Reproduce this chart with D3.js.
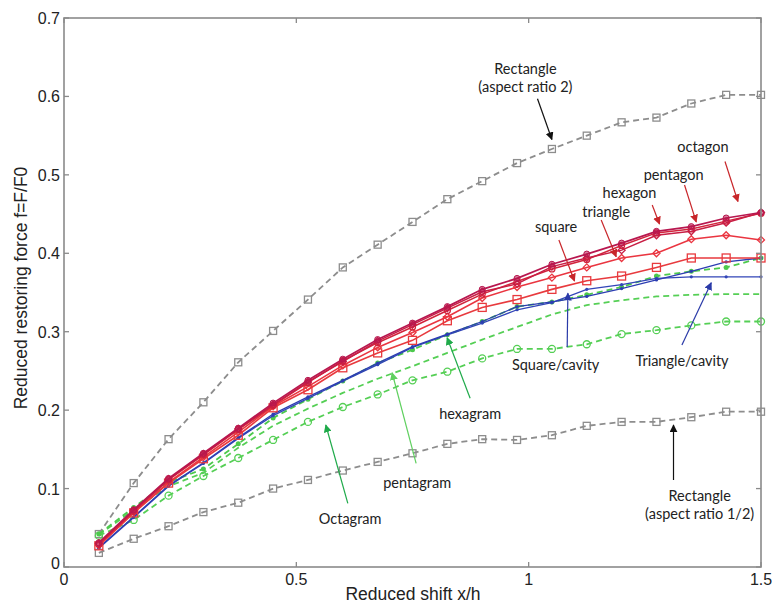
<!DOCTYPE html>
<html lang="en">
<head>
<meta charset="UTF-8">
<title>Reduced restoring force vs reduced shift</title>
<script src="https://d3js.org/d3.v7.min.js"></script>
<style>
    body { margin: 0; background: #fff; }
    svg { display: block; }
    .tick-label { font-family: 'Liberation Sans', Arial, sans-serif; font-size: 16px; fill: #222; }
    .axis-title { font-family: 'Liberation Sans', Arial, sans-serif; font-size: 17.5px; fill: #222; }
    .note { font-family: Lato, 'Open Sans', sans-serif; font-size: 14.5px; fill: #222; }
</style>
</head>
<body>
<div id="chart"></div>
<script>
    // reduced shift x/h at which every curve is sampled
    const shifts = [0.075, 0.15, 0.225, 0.3, 0.375, 0.45, 0.525, 0.6, 0.675, 0.75,
                    0.825, 0.9, 0.975, 1.05, 1.125, 1.2, 1.275, 1.35, 1.425, 1.5];

    // reduced restoring force f=F/F0
    const rectAspect2    = [0.042, 0.107, 0.163, 0.210, 0.261, 0.301, 0.341, 0.382, 0.411, 0.440,
                            0.469, 0.492, 0.515, 0.533, 0.550, 0.567, 0.573, 0.591, 0.602, 0.602];
    const rectAspectHalf = [0.018, 0.036, 0.052, 0.070, 0.082, 0.100, 0.111, 0.123, 0.134, 0.145,
                            0.157, 0.163, 0.162, 0.168, 0.180, 0.185, 0.185, 0.191, 0.198, 0.198];
    const octagon        = [0.031, 0.073, 0.113, 0.145, 0.177, 0.209, 0.238, 0.265, 0.290, 0.311,
                            0.332, 0.354, 0.368, 0.386, 0.399, 0.413, 0.428, 0.434, 0.445, 0.452];
    const pentagon       = [0.030, 0.072, 0.112, 0.144, 0.176, 0.207, 0.236, 0.262, 0.288, 0.309,
                            0.330, 0.351, 0.361, 0.383, 0.394, 0.404, 0.423, 0.428, 0.439, 0.452];
    const hexagon        = [0.029, 0.071, 0.111, 0.143, 0.175, 0.206, 0.235, 0.263, 0.286, 0.306,
                            0.327, 0.348, 0.364, 0.380, 0.392, 0.410, 0.426, 0.431, 0.441, 0.451];
    const triangle       = [0.028, 0.070, 0.108, 0.140, 0.172, 0.205, 0.230, 0.257, 0.280, 0.299,
                            0.319, 0.343, 0.357, 0.369, 0.382, 0.394, 0.400, 0.418, 0.423, 0.417];
    const square         = [0.027, 0.069, 0.107, 0.138, 0.168, 0.203, 0.226, 0.254, 0.273, 0.289,
                            0.314, 0.331, 0.341, 0.354, 0.365, 0.371, 0.382, 0.394, 0.394, 0.394];
    const squareCavity   = [0.025, 0.064, 0.104, 0.133, 0.165, 0.195, 0.217, 0.238, 0.260, 0.281,
                            0.297, 0.313, 0.332, 0.338, 0.345, 0.355, 0.366, 0.377, 0.389, 0.394];
    const triangleCavity = [0.024, 0.063, 0.103, 0.132, 0.164, 0.193, 0.215, 0.237, 0.258, 0.280,
                            0.296, 0.311, 0.328, 0.337, 0.354, 0.360, 0.368, 0.370, 0.370, 0.370];
    const hexagram       = [0.042, 0.076, 0.108, 0.125, 0.157, 0.190, 0.214, 0.237, 0.260, 0.277,
                            0.296, 0.313, 0.332, 0.338, 0.347, 0.357, 0.371, 0.377, 0.382, 0.394];
    const pentagram      = [0.041, 0.073, 0.103, 0.120, 0.152, 0.180, 0.202, 0.222, 0.240, 0.256,
                            0.273, 0.290, 0.306, 0.322, 0.334, 0.340, 0.345, 0.347, 0.348, 0.348];
    const octagram       = [0.040, 0.060, 0.091, 0.116, 0.139, 0.162, 0.185, 0.204, 0.220, 0.238,
                            0.249, 0.266, 0.278, 0.278, 0.284, 0.297, 0.302, 0.308, 0.313, 0.313];

    const xTicks = [0, 0.5, 1, 1.5];
    const xTickLabels = ['0', '0.5', '1', '1.5'];
    const yTicks = [0, 0.1, 0.2, 0.3, 0.4, 0.5, 0.6, 0.7];
    const yTickLabels = ['0', '0.1', '0.2', '0.3', '0.4', '0.5', '0.6', '0.7'];

    const width = 772, height = 603;
    const margin = { left: 64, right: 11, top: 18, bottom: 36 };

    const svg = d3.select('#chart').append('svg')
        .attr('width', width)
        .attr('height', height);

    const x = d3.scaleLinear().domain([0, 1.5]).range([margin.left, width - margin.right]);
    const y = d3.scaleLinear().domain([0, 0.7]).range([height - margin.bottom, margin.top]);

    // arrowheads, one per colour
    const defs = svg.append('defs');
    const arrowColors = { black: '#111', red: '#c8262a', blue: '#2a3aa8', green: '#1faa4a', lime: '#5fd05f' };
    Object.entries(arrowColors).forEach(([name, c]) => {
        defs.append('marker')
            .attr('id', 'head-' + name)
            .attr('viewBox', '0 0 10 10')
            .attr('refX', 9).attr('refY', 5)
            .attr('markerWidth', 8).attr('markerHeight', 8)
            .attr('markerUnits', 'userSpaceOnUse')
            .attr('orient', 'auto')
            .append('path')
            .attr('d', 'M0,0 L10,5 L0,10 Z')
            .attr('fill', c);
    });

    const line = d3.line()
        .x((d, i) => x(shifts[i]))
        .y(d => y(d));

    const series = [
        { values: rectAspect2,    color: '#8d8d8d', width: 1.8, dash: '6,4', marker: 'square', size: 7 },
        { values: rectAspectHalf, color: '#8d8d8d', width: 1.8, dash: '6,4', marker: 'square', size: 7 },
        { values: octagram,       color: '#55cf55', width: 1.8, dash: '6,4', marker: 'circle', size: 7 },
        { values: pentagram,      color: '#55cf55', width: 1.8, dash: '6,4', marker: 'none',   size: 0 },
        { values: hexagram,       color: '#4cc94c', width: 1.8, dash: '6,4', marker: 'dot',    size: 2.5 },
        { values: triangleCavity, color: '#3245b8', width: 1.3, dash: null,  marker: 'dot',    size: 1.6 },
        { values: squareCavity,   color: '#2c3db2', width: 1.3, dash: null,  marker: 'dot',    size: 1.6 },
        { values: square,         color: '#e83a3e', width: 1.6, dash: null,  marker: 'square', size: 8 },
        { values: triangle,       color: '#ea3540', width: 1.6, dash: null,  marker: 'diamond', size: 7 },
        { values: hexagon,        color: '#d2243c', width: 1.5, dash: null,  marker: 'circle', size: 6 },
        { values: pentagon,       color: '#c81e44', width: 1.5, dash: null,  marker: 'diamond', size: 7 },
        { values: octagon,        color: '#b8174f', width: 1.7, dash: null,  marker: 'filled', size: 6 }
    ];

    const plot = svg.append('g');

    series.forEach(s => {
        plot.append('path')
            .datum(s.values)
            .attr('d', line)
            .attr('fill', 'none')
            .attr('stroke', s.color)
            .attr('stroke-width', s.width)
            .attr('stroke-dasharray', s.dash);

        if (s.marker === 'none') return;

        const pts = plot.append('g').selectAll('g')
            .data(s.values)
            .join('g')
            .attr('transform', (d, i) => `translate(${x(shifts[i])},${y(d)})`);

        const h = s.size / 2;
        if (s.marker === 'square') {
            pts.append('rect')
                .attr('x', -h).attr('y', -h).attr('width', s.size).attr('height', s.size)
                .attr('fill', 'none').attr('stroke', s.color).attr('stroke-width', 1.3);
        } else if (s.marker === 'diamond') {
            pts.append('path')
                .attr('d', `M0,${-h} L${h},0 L0,${h} L${-h},0 Z`)
                .attr('fill', 'none').attr('stroke', s.color).attr('stroke-width', 1.3);
        } else if (s.marker === 'circle') {
            pts.append('circle')
                .attr('r', h)
                .attr('fill', 'none').attr('stroke', s.color).attr('stroke-width', 1.3);
        } else if (s.marker === 'filled') {
            pts.append('circle')
                .attr('r', h)
                .attr('fill', s.color).attr('fill-opacity', 0.55)
                .attr('stroke', s.color).attr('stroke-width', 1);
        } else {
            pts.append('circle')
                .attr('r', s.size)
                .attr('fill', s.color);
        }
    });

    // box and inward ticks, MATLAB style
    const axisColor = '#8a8a8a';
    svg.append('rect')
        .attr('x', x(0)).attr('y', y(0.7))
        .attr('width', x(1.5) - x(0)).attr('height', y(0) - y(0.7))
        .attr('fill', 'none').attr('stroke', axisColor).attr('stroke-width', 1.6);

    const tickLen = 5;
    xTicks.forEach((t, i) => {
        svg.append('line')
            .attr('x1', x(t)).attr('x2', x(t))
            .attr('y1', y(0)).attr('y2', y(0) - tickLen)
            .attr('stroke', axisColor).attr('stroke-width', 1.3);
        svg.append('line')
            .attr('x1', x(t)).attr('x2', x(t))
            .attr('y1', y(0.7)).attr('y2', y(0.7) + tickLen)
            .attr('stroke', axisColor).attr('stroke-width', 1.3);
        svg.append('text')
            .attr('class', 'tick-label')
            .attr('x', x(t)).attr('y', y(0) + 18)
            .attr('text-anchor', 'middle')
            .text(xTickLabels[i]);
    });

    yTicks.forEach((t, i) => {
        svg.append('line')
            .attr('x1', x(0)).attr('x2', x(0) + tickLen)
            .attr('y1', y(t)).attr('y2', y(t))
            .attr('stroke', axisColor).attr('stroke-width', 1.3);
        svg.append('line')
            .attr('x1', x(1.5)).attr('x2', x(1.5) - tickLen)
            .attr('y1', y(t)).attr('y2', y(t))
            .attr('stroke', axisColor).attr('stroke-width', 1.3);
        svg.append('text')
            .attr('class', 'tick-label')
            .attr('x', x(0) - 4).attr('y', y(t) + (t === 0 ? 2 : 6))
            .attr('text-anchor', 'end')
            .text(yTickLabels[i]);
    });

    svg.append('text')
        .attr('class', 'axis-title')
        .attr('x', 413).attr('y', 600)
        .attr('text-anchor', 'middle')
        .text('Reduced shift x/h');

    svg.append('text')
        .attr('class', 'axis-title')
        .attr('transform', 'translate(27,288) rotate(-90)')
        .attr('text-anchor', 'middle')
        .text('Reduced restoring force f=F/F0');

    // annotations: label centre and arrow, in data units
    const notes = [
        { text: ['Rectangle', '(aspect ratio 2)'], at: [0.993, 0.635], from: [1.019, 0.597], to: [1.050, 0.545], color: 'black' },
        { text: ['octagon'],  at: [1.375, 0.536], from: [1.4225, 0.517], to: [1.4504, 0.466], color: 'red' },
        { text: ['pentagon'], at: [1.312, 0.500], from: [1.3354, 0.487], to: [1.3606, 0.440], color: 'red' },
        { text: ['hexagon'],  at: [1.217, 0.477], from: [1.2659, 0.4616], to: [1.2816, 0.4373], color: 'red' },
        { text: ['triangle'], at: [1.167, 0.453], from: [1.1561, 0.4424], to: [1.1884, 0.3956], color: 'red' },
        { text: ['square'],   at: [1.059, 0.434], from: [1.065, 0.4169], to: [1.0986, 0.3647], color: 'red' },
        { text: ['Square/cavity'],   at: [1.058, 0.2576], from: [1.0829, 0.2805], to: [1.0844, 0.349], color: 'blue' },
        { text: ['Triangle/cavity'], at: [1.330, 0.263], from: [1.3298, 0.2831], to: [1.3929, 0.3625], color: 'blue' },
        { text: ['hexagram'],  at: [0.874, 0.195], from: [0.874, 0.2151], to: [0.8245, 0.2924], color: 'green' },
        { text: ['pentagram'], at: [0.760, 0.107], from: [0.7578, 0.1322], to: [0.7061, 0.2477], color: 'lime' },
        { text: ['Octagram'],  at: [0.6157, 0.0612], from: [0.6108, 0.0812], to: [0.5634, 0.1811], color: 'green' },
        { text: ['Rectangle', '(aspect ratio 1/2)'], at: [1.368, 0.0905], from: [1.3117, 0.1109], to: [1.3117, 0.1811], color: 'black' }
    ];

    const noteLayer = svg.append('g');
    notes.forEach(n => {
        noteLayer.append('line')
            .attr('x1', x(n.from[0])).attr('y1', y(n.from[1]))
            .attr('x2', x(n.to[0])).attr('y2', y(n.to[1]))
            .attr('stroke', arrowColors[n.color])
            .attr('stroke-width', 1.2)
            .attr('marker-end', `url(#head-${n.color})`);

        const t = noteLayer.append('text')
            .attr('class', 'note')
            .attr('text-anchor', 'middle');
        n.text.forEach((s, i) => {
            t.append('tspan')
                .attr('x', x(n.at[0]))
                .attr('y', y(n.at[1]) + 5 + i * 18)
                .text(s);
        });
    });
</script>
</body>
</html>
